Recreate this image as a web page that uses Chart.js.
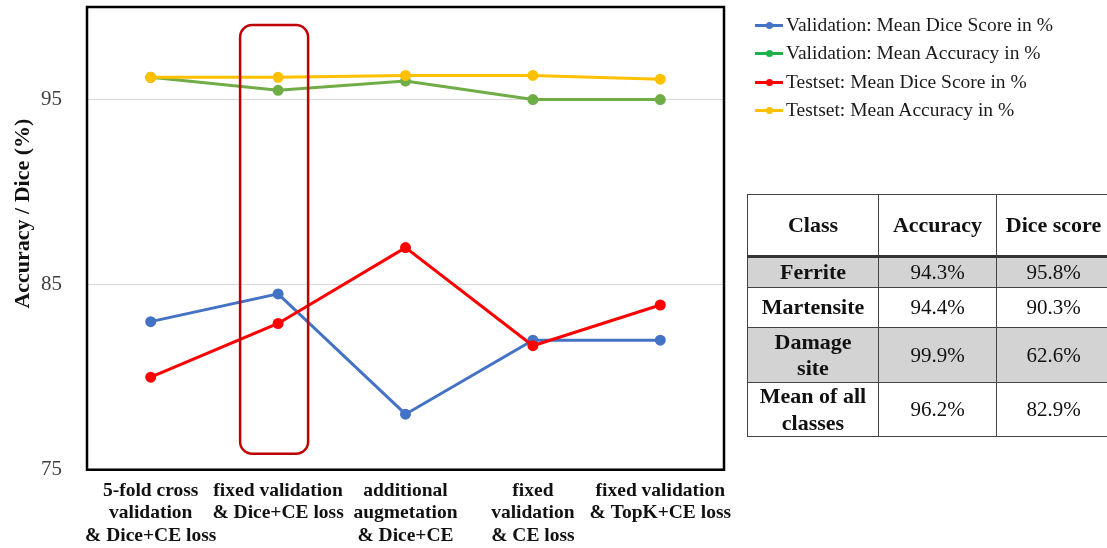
<!DOCTYPE html>
<html>
<head>
<meta charset="utf-8">
<script src="https://cdn.jsdelivr.net/npm/chart.js@4/dist/chart.umd.min.js"></script>
<style>
  body { margin: 0; background: #fff; overflow: hidden; }
  #wrap { position: relative; width: 1107px; height: 548px; overflow: hidden; }
  #legend {
    position: absolute; left: 755px; top: 11px;
    font-family: "Liberation Serif", serif; font-size: 19.5px; color: #1a1a1a;
  }
  #legend .item { height: 28.3px; line-height: 28.3px; white-space: nowrap; }
  #legend .mark { display: inline-block; position: relative; width: 28px; height: 3px; margin-right: 3px; vertical-align: middle; top: -1px; }
  #legend .dot { position: absolute; left: 10.5px; top: -2px; width: 7px; height: 7px; border-radius: 50%; }
  #tbl {
    position: absolute; left: 747px; top: 194px; width: 360px;
    border-collapse: collapse; table-layout: fixed;
    font-family: "Liberation Serif", serif; font-size: 21px; color: #111;
  }
  #tbl td, #tbl th { border: 1.5px solid #444; text-align: center; padding: 0; line-height: 26.5px; }
  #tbl th { height: 60px; font-weight: bold; font-size: 22px; border-bottom: 3px solid #333; }
  #tbl td.cls { font-weight: bold; font-size: 22px; }
  #tbl tr.shade td { background: #d3d3d3; }
</style>
</head>
<body>
<div id="wrap">
  <canvas id="graph"></canvas>
  <div id="legend"></div>
  <table id="tbl"></table>
</div>
<script>
const categories = [
  ['5-fold cross', 'validation', '& Dice+CE loss'],
  ['fixed validation', '& Dice+CE loss'],
  ['additional', 'augmetation', '& Dice+CE'],
  ['fixed', 'validation', '& CE loss'],
  ['fixed validation', '& TopK+CE loss']
]
const seriesNames = [
  'Validation: Mean Dice Score in %',
  'Validation: Mean Accuracy in %',
  'Testset: Mean Dice Score in %',
  'Testset: Mean Accuracy in %'
]
const valDice = [83.0, 84.5, 78.0, 82.0, 82.0]
const valAcc = [96.2, 95.5, 96.0, 95.0, 95.0]
const testDice = [80.0, 82.9, 87.0, 81.7, 83.9]
const testAcc = [96.2, 96.2, 96.3, 96.3, 96.1]
const yTicks = [75, 85, 95]

const tableHeader = ['Class', 'Accuracy', 'Dice score']
const tableClasses = ['Ferrite', 'Martensite', 'Damage<br>site', 'Mean of all<br>classes']
const tableAccuracy = ['94.3%', '94.4%', '99.9%', '96.2%']
const tableDice = ['95.8%', '90.3%', '62.6%', '82.9%']

const lineColors = ['#4472C4', '#70AD47', '#FF0000', '#FFC000']
const legendColors = ['#4472C4', '#1DB04B', '#FF0000', '#FFC000']
const drawOrder = [3, 2, 1, 0]
const serif = '"Liberation Serif", "Times New Roman", serif'

// table on the right
const rowHeights = [31, 40, 55, 54]
const tbl = document.getElementById('tbl')
let html = '<tr>' + tableHeader.map((h, i) =>
  `<th style="width:${[130, 117, 113][i]}px">${h}</th>`).join('') + '</tr>'
tableClasses.forEach((c, i) => {
  html += `<tr class="${i % 2 === 0 ? 'shade' : ''}" style="height:${rowHeights[i]}px">` +
    `<td class="cls">${c}</td><td>${tableAccuracy[i]}</td><td>${tableDice[i]}</td></tr>`
})
tbl.innerHTML = html

// html legend, built from the chart's datasets
const htmlLegend = {
  id: 'htmlLegend',
  afterUpdate(chart) {
    const box = document.getElementById('legend')
    box.innerHTML = chart.data.datasets.map((ds, i) =>
      `<div class="item"><span class="mark" style="background:${legendColors[i]}">` +
      `<span class="dot" style="background:${legendColors[i]}"></span></span>${ds.label}</div>`
    ).join('')
  }
}

const frame = {
  id: 'frame',
  beforeDatasetsDraw(chart) {
    const {ctx, chartArea: a} = chart
    ctx.save()
    ctx.strokeStyle = '#000'
    ctx.lineWidth = 2.5
    ctx.strokeRect(a.left, a.top, a.right - a.left, a.bottom - a.top)
    ctx.restore()
  },
  afterDatasetsDraw(chart) {
    // highlight box around the second setup
    const {ctx, chartArea: a, scales} = chart
    const cx = scales.x.getPixelForValue(1)
    const x0 = cx - 38, w = 68
    const y0 = a.top + 18, h = a.bottom - a.top - 34
    ctx.save()
    ctx.strokeStyle = '#C00000'
    ctx.lineWidth = 2.5
    ctx.beginPath()
    ctx.roundRect(x0, y0, w, h, 12)
    ctx.stroke()
    ctx.restore()
  }
}

const values = [valDice, valAcc, testDice, testAcc]

new Chart(document.getElementById('graph'), {
  type: 'line',
  data: {
    labels: categories,
    datasets: seriesNames.map((name, i) => ({
      label: name,
      data: values[i],
      borderColor: lineColors[i],
      backgroundColor: lineColors[i],
      borderWidth: 3,
      pointRadius: 4,
      pointHoverRadius: 4,
      tension: 0,
      order: drawOrder[i]
    }))
  },
  options: {
    responsive: true,
    maintainAspectRatio: false,
    animation: false,
    layout: { padding: { left: 10, top: 5, right: 383, bottom: -9 } },
    scales: {
      x: {
        offset: true,
        grid: { display: false, drawTicks: false, offset: true },
        border: { display: false },
        ticks: {
          color: '#111',
          padding: 10,
          maxRotation: 0,
          autoSkip: false,
          font: { family: serif, size: 19.5, weight: 'bold', lineHeight: 1.15 }
        }
      },
      y: {
        min: 75,
        max: 100,
        afterBuildTicks: (scale) => { scale.ticks = yTicks.map(v => ({ value: v })) },
        border: { display: false },
        grid: { color: '#d9d9d9', lineWidth: 1, drawTicks: true, tickLength: 25, tickColor: 'transparent' },
        ticks: {
          padding: 0,
          color: '#404040',
          font: { family: serif, size: 21, lineHeight: 0.5 }
        },
        title: {
          display: true,
          // leading spaces lift the centred title like in the original
          text: '\u00a0'.repeat(9) + 'Accuracy / Dice (%)',
          color: '#111',
          padding: { top: 0, bottom: 4.6 },
          font: { family: serif, size: 22, weight: 'bold', lineHeight: 1.2 }
        }
      }
    },
    plugins: {
      tooltip: { enabled: false },
      legend: { display: false }
    }
  },
  plugins: [frame, htmlLegend]
})
</script>
</body>
</html>
